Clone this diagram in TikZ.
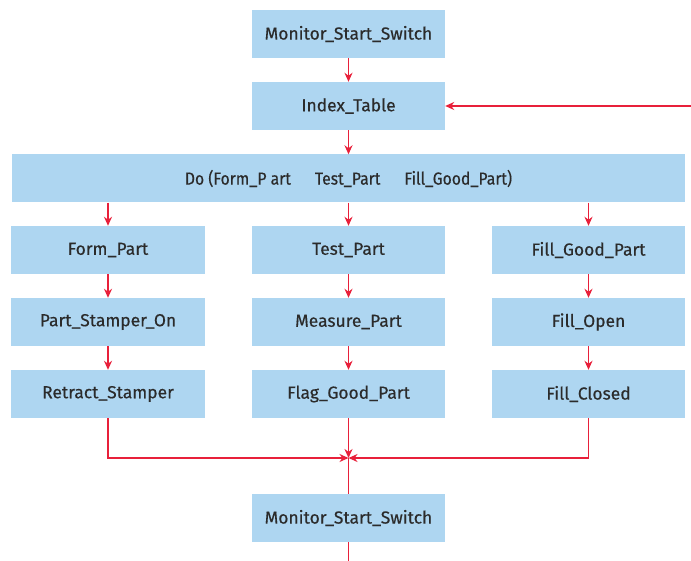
\documentclass[tikz,border=0pt]{standalone}
\usepackage{fontspec}
\setmainfont{Fira Sans}
\newfontfamily\taskfont[FakeBold=0.4]{Fira Sans}
\usetikzlibrary{arrows.meta}
\definecolor{boxblue}{HTML}{AED6F1}
\definecolor{flowred}{HTML}{E8203A}
\definecolor{inktext}{HTML}{2B2B2B}
\tikzset{
  task/.style={fill=boxblue,text=inktext,minimum width=193bp,minimum height=48bp,inner sep=0pt,font=\taskfont\fontsize{17.5}{20}\selectfont},
  flow/.style={draw=flowred,line width=1.7bp,-{Stealth[length=9bp,width=8bp]}},
  plain/.style={draw=flowred,line width=1.7bp}
}
\begin{document}
\begin{tikzpicture}[x=1bp,y=-1bp]
\useasboundingbox (0,0) rectangle (691,561);
\node[task] (mon) at (348.5,34) {Monitor\_Start\_Switch};
\node[task] (idx) at (348.5,106) {Index\_Table};
\node[task,minimum width=673bp] (do) at (348.5,178.5)
  {\scalebox{0.9}[1]{Do (Form\_P art\quad\ \ Test\_Part\quad\ \ Fill\_Good\_Part)}};
% three branches
\node[task] (form) at (108,250) {Form\_Part};
\node[task] (stamp) at (108,322) {Part\_Stamper\_On};
\node[task] (retract) at (108,394) {Retract\_Stamper};
\node[task] (test) at (348.5,250) {Test\_Part};
\node[task] (meas) at (348.5,322) {Measure\_Part};
\node[task] (flag) at (348.5,394) {Flag\_Good\_Part};
\node[task] (fill) at (588.5,250) {Fill\_Good\_Part};
\node[task] (fopen) at (588.5,322) {Fill\_Open};
\node[task] (fclosed) at (588.5,394) {Fill\_Closed};
\node[task] (mon2) at (348.5,518) {Monitor\_Start\_Switch};
\coordinate (join) at (348.5,458);
\coordinate (back) at (691,106);
\coordinate (out) at (348.5,561);

\path[flow] (mon) -- (idx);
\path[flow] (idx) -- (do);
\path[flow] (back) -- (idx);
\foreach \a/\b in {form/stamp,stamp/retract,test/meas,meas/flag,fill/fopen,fopen/fclosed}
{\path[flow] (\a) -- (\b);}
\foreach \b in {form,test,fill}
{\path[flow] (do.south -| \b) -- (\b);}
\path[flow] (retract) |- (join);
\path[flow] (fclosed) |- (join);
\path[flow] (flag) -- (join);
\path[plain] (join) -- (mon2);
\path[plain] (mon2) -- (out);

\end{tikzpicture}
\end{document}
